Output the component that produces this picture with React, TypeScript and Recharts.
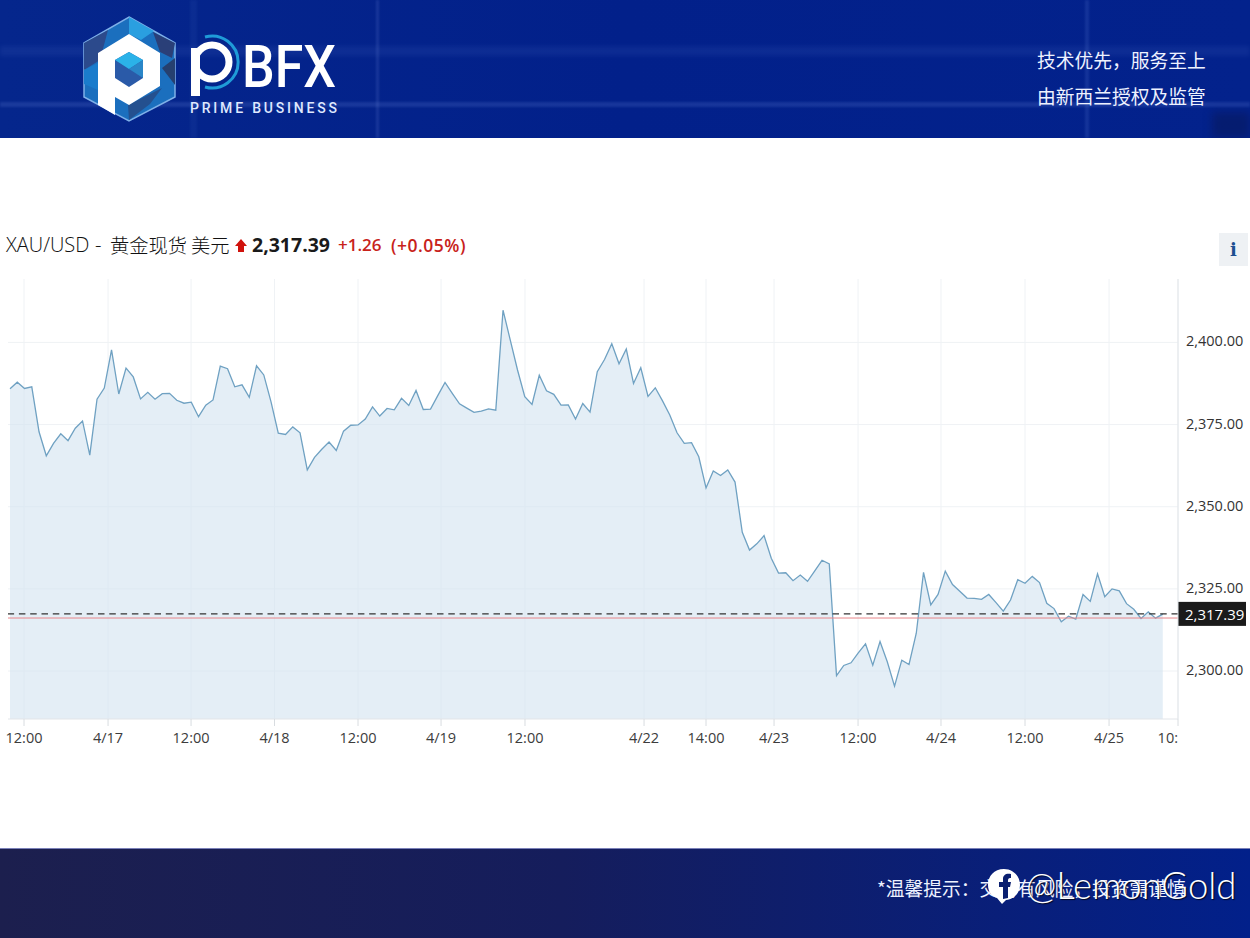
import React from 'react';
import { ComposedChart, Area, XAxis, YAxis, CartesianGrid, ReferenceLine } from 'recharts';

// hourly-ish gold quotes
const prices = [
  2385.9, 2387.9, 2386.0, 2386.5, 2372.8, 2365.5, 2369.3, 2372.2, 2370.1, 2373.9,
  2376.1, 2365.7, 2382.7, 2386.1, 2397.7, 2384.3, 2392.2, 2389.5, 2382.8, 2384.8,
  2382.7, 2384.4, 2384.5, 2382.4, 2381.5, 2381.8, 2377.4, 2380.9, 2382.5, 2392.8,
  2392.0, 2386.5, 2387.1, 2383.3, 2392.9, 2390.1, 2381.9, 2372.4, 2372.0, 2374.3,
  2372.5, 2361.2, 2365.0, 2367.5, 2369.7, 2367.1, 2373.0, 2374.8, 2374.9, 2376.7,
  2380.4, 2377.6, 2379.9, 2379.5, 2383.0, 2380.8, 2385.4, 2379.6, 2379.7, 2383.8,
  2387.8, 2384.5, 2381.3, 2380.0, 2378.7, 2379.1, 2379.8, 2379.4, 2409.8, 2400.7,
  2391.6, 2383.5, 2381.1, 2390.0, 2385.3, 2384.2, 2380.9, 2381.0, 2376.7, 2381.4,
  2378.8, 2391.1, 2394.8, 2399.6, 2393.5, 2398.0, 2387.5, 2392.3, 2383.6, 2386.2,
  2382.2, 2377.9, 2372.5, 2369.3, 2369.5, 2365.2, 2355.7, 2360.9, 2359.5, 2361.2,
  2357.5, 2342.2, 2336.8, 2338.7, 2341.2, 2334.3, 2329.8, 2329.9, 2327.5, 2329.2,
  2327.3, 2330.5, 2333.7, 2332.6, 2298.6, 2301.7, 2302.5, 2305.5, 2308.3, 2301.8,
  2309.0, 2302.8, 2295.4, 2303.3, 2302.0, 2311.5, 2330.0, 2320.1, 2323.3, 2330.4,
  2326.3, 2324.3, 2322.2, 2322.1, 2321.8, 2323.3, 2320.8, 2318.2, 2321.6, 2327.8,
  2326.7, 2328.8, 2326.9, 2320.6, 2319.0, 2315.0, 2316.7, 2315.8, 2323.3, 2321.2,
  2329.6, 2322.6, 2325.0, 2324.4, 2320.5, 2318.8, 2316.0, 2318.0, 2316.1, 2317.3,
];

// x ticks sit between samples, so they are given as fractional sample numbers
const tickSpots = [1.93, 13.52, 24.97, 36.48, 48, 59.45, 71.03, 87.45, 96, 105.38, 116.97, 128.41, 140, 151.59, 161.1];
const tickLabels = ['12:00', '4/17', '12:00', '4/18', '12:00', '4/19', '12:00', '4/22', '14:00', '4/23', '12:00', '4/24', '12:00', '4/25', '10:'];
const priceTicks = [2300, 2325, 2350, 2375, 2400];

const LAST_PRICE = 2317.39;
const PREV_CLOSE = 2316.13;

const chartData = prices.map((price, idx) => ({ idx, price }));

const LATIN = '"Open Sans", "Noto Sans CJK SC", sans-serif';
const CJK = '"Noto Sans CJK SC", "Noto Sans", sans-serif';

const fmtPrice = (v: number) => v.toLocaleString('en-US', { minimumFractionDigits: 2, maximumFractionDigits: 2 });

const TimeTick = (props: any) => {
  const { x, y, payload, index } = props;
  const last = index === tickSpots.length - 1;
  return (
    <text x={x} y={y + 15} textAnchor={last ? 'end' : 'middle'} fontSize={14.5} fill="#3c3c3c" fontFamily={LATIN}>
      {tickLabels[tickSpots.indexOf(payload.value)]}
    </text>
  );
};

const PriceTick = (props: any) => {
  const { x, y, payload } = props;
  return (
    <text x={x - 6} y={y + 4} fontSize={14.5} fill="#333" fontFamily={LATIN}>
      {fmtPrice(payload.value)}
    </text>
  );
};

const LastPriceTag = (props: any) => {
  const { viewBox } = props;
  const y = viewBox.y;
  const x = viewBox.x + viewBox.width;
  return (
    <g>
      <rect x={x} y={y - 12} width={68} height={24} fill="#1a1a1a" />
      <text x={x + 7} y={y + 6} fontSize={15} fill="#fff" fontFamily={LATIN}>
        {fmtPrice(LAST_PRICE)}
      </text>
    </g>
  );
};

const Logo = () => (
  <svg width={350} height={138} style={{ position: 'absolute', left: 0, top: 0 }}>
    <polygon points="129,17 175,43 175,97 129,121 84,97 84,43" fill="#1b6fbe" stroke="#7fb0e8" strokeWidth={1.5} />
    <polygon points="129,17 154,31 141,40 129,34" fill="#2a9fe0" />
    <polygon points="84,43 108,30 100,60 84,70" fill="#2c4a8c" />
    <polygon points="153,32 175,43 172,58 160,52" fill="#2a3f78" />
    <polygon points="175,58 175,85 162,68" fill="#26406f" />
    <polygon points="84,70 100,62 98,90 84,84" fill="#1a7ccc" />
    <polygon points="128,105 162,88 150,104 129,120" fill="#24508f" />
    <polygon points="129,34 160,53 160,86 129,105 115,97 115,115 98,105 98,53" fill="#fff" />
    <polygon points="129,52 143,60 143,78 129,87 115,78 115,60" fill="#2a5aa8" />
    <polygon points="129,52 143,60 129,69 115,60" fill="#2bb2e8" />
    <polygon points="129,69 143,60 143,78" fill="#2a86c8" />
    {/* p glyph with blue ring */}
    <rect x={191} y={48} width={9} height={48} fill="#fff" />
    <circle cx={212} cy={62} r={17} fill="none" stroke="#fff" strokeWidth={7} />
    <path d="M 205 37 A 26 26 0 1 1 205 87" fill="none" stroke="#1f9bd8" strokeWidth={3} />
    <text x={242} y={87} fontSize={60} fontWeight={500} fill="#fff" fontFamily="Roboto, sans-serif" textLength={94} lengthAdjust="spacingAndGlyphs">
      BFX
    </text>
    <text x={190} y={113} fontSize={14} fontWeight={500} fill="#dfe8ff" fontFamily="Roboto, sans-serif" textLength={147}>
      PRIME BUSINESS
    </text>
  </svg>
);

const Header = () => (
  <div style={{ position: 'absolute', left: 0, top: 0, width: 1250, height: 138, overflow: 'hidden', background: 'linear-gradient(90deg, #05268c 0%, #02208a 50%, #03228c 100%)' }}>
    <div style={{ position: 'absolute', left: 0, top: 46, width: 1250, height: 10, background: 'rgba(120,150,230,0.09)', filter: 'blur(2px)' }} />
    <div style={{ position: 'absolute', left: 0, top: 102, width: 1250, height: 5, background: 'rgba(120,150,230,0.18)', filter: 'blur(1px)' }} />
    <div style={{ position: 'absolute', left: 190, top: 0, width: 7, height: 138, background: 'rgba(120,150,230,0.07)', filter: 'blur(1px)' }} />
    <div style={{ position: 'absolute', left: 376, top: 0, width: 3, height: 138, background: 'rgba(120,150,230,0.18)', filter: 'blur(1px)' }} />
    <div style={{ position: 'absolute', left: 1085, top: 0, width: 4, height: 138, background: 'rgba(120,150,230,0.16)', filter: 'blur(1px)' }} />
    <div style={{ position: 'absolute', left: 1212, top: 112, width: 38, height: 26, background: 'rgba(10,20,70,0.4)', filter: 'blur(4px)' }} />
    <Logo />
    <div style={{ position: 'absolute', left: 1037, top: 48, fontSize: 18.75, lineHeight: '24px', color: '#eef2ff', fontFamily: CJK, whiteSpace: 'nowrap' }}>技术优先，服务至上</div>
    <div style={{ position: 'absolute', left: 1037, top: 84, fontSize: 18.75, lineHeight: '24px', color: '#eef2ff', fontFamily: CJK, whiteSpace: 'nowrap' }}>由新西兰授权及监管</div>
  </div>
);

const TitleRow = () => {
  const base: React.CSSProperties = { position: 'absolute', top: 231, lineHeight: '28px', whiteSpace: 'nowrap' };
  return (
    <>
      <span style={{ ...base, left: 6, fontSize: 20, color: '#111', fontFamily: LATIN, fontWeight: 300 }}>XAU/USD</span>
      <span style={{ ...base, left: 95, fontSize: 20, color: '#111', fontFamily: LATIN, fontWeight: 300 }}>-</span>
      <span style={{ ...base, left: 110, fontSize: 19.3, color: '#111', fontFamily: CJK, fontWeight: 300 }}>黄金现货</span>
      <span style={{ ...base, left: 191, fontSize: 19.3, color: '#111', fontFamily: CJK, fontWeight: 300 }}>美元</span>
      <svg width={12} height={14} style={{ position: 'absolute', left: 235, top: 239 }}>
        <polygon points="6,0 12,7 9,7 9,13 3,13 3,7 0,7" fill="#d0120c" />
      </svg>
      <span style={{ ...base, left: 252, fontSize: 19.5, fontWeight: 700, color: '#1a1a1a', fontFamily: LATIN }}>2,317.39</span>
      <span style={{ ...base, left: 338, fontSize: 17, fontWeight: 600, color: '#c8221a', fontFamily: LATIN }}>+1.26</span>
      <span style={{ ...base, left: 391, fontSize: 17.5, fontWeight: 600, letterSpacing: 0.5, color: '#c8221a', fontFamily: LATIN }}>(+0.05%)</span>
      <div style={{ position: 'absolute', left: 1219, top: 233, width: 29, height: 33, background: '#eef1f4', color: '#1d4f91', fontFamily: '"DejaVu Serif", serif', fontWeight: 700, fontSize: 18, lineHeight: '33px', textAlign: 'center' }}>i</div>
    </>
  );
};

const Footer = () => (
  <div style={{ position: 'absolute', left: 0, top: 848, width: 1250, height: 90, overflow: 'hidden', background: 'linear-gradient(90deg, #1c1f4e 0%, #151d5c 45%, #02208a 100%)', borderTop: '1px solid #7a80b8', boxSizing: 'border-box' }}>
    <div style={{ position: 'absolute', left: 877, top: 27, fontSize: 18.75, lineHeight: '24px', color: '#eef2ff', fontFamily: CJK, whiteSpace: 'nowrap' }}>*温馨提示：交易有风险，投资需谨慎</div>
    <svg width={36} height={40} style={{ position: 'absolute', left: 986, top: 18 }}>
      <path d="M 18 2 C 8 2 2 9 2 18 C 2 25 6 29 11 31 L 16 37 L 20 33 C 28 32 34 26 34 18 C 34 9 27 2 18 2 Z" fill="#fff" />
      <path d="M 17 32 L 17 20 L 13 20 L 13 15 L 17 15 L 17 12 C 17 8 20 6 25 7 L 25 11 C 22 11 22 12 22 15 L 25 15 L 24 20 L 22 20 L 22 31 Z" fill="#0a1f70" />
    </svg>
    <div style={{ position: 'absolute', left: 1026, top: 11, fontSize: 36.5, lineHeight: '50px', fontWeight: 300, color: '#fff', fontFamily: 'Lato, Roboto, sans-serif', whiteSpace: 'nowrap', textShadow: '1px 1px 1px rgba(0,0,0,0.75)' }}>@LemonGold</div>
  </div>
);

export default function App() {
  return (
    <div style={{ position: 'absolute', left: 0, top: 0, width: 1250, height: 938, background: '#fff', overflow: 'hidden' }}>
      <Header />
      <TitleRow />
      <div style={{ position: 'absolute', left: 0, top: 270 }}>
        <ComposedChart width={1250} height={490} data={chartData} margin={{ top: 9, right: 0, bottom: 0, left: 8 }}>
          <CartesianGrid stroke="#eff2f5" syncWithTicks />
          <XAxis
            dataKey="idx"
            type="number"
            domain={[-0.28, 161.1]}
            ticks={tickSpots}
            interval={0}
            height={41}
            tick={<TimeTick />}
            tickSize={7}
            axisLine={{ stroke: '#e2e5e9' }}
            tickLine={{ stroke: '#d8dce0' }}
          />
          <YAxis
            orientation="right"
            width={72}
            type="number"
            domain={[2285.4, 2419.3]}
            ticks={priceTicks}
            tickLine={false}
            tickMargin={8}
            axisLine={{ stroke: '#e2e5e9' }}
            tick={<PriceTick />}
          />
          <Area
            type="linear"
            dataKey="price"
            stroke="#6fa1c2"
            strokeWidth={1.3}
            fill="#d3e4f0"
            fillOpacity={0.62}
            isAnimationActive={false}
            dot={false}
            activeDot={false}
          />
          <ReferenceLine y={PREV_CLOSE} stroke="#e8868a" strokeWidth={1} />
          <ReferenceLine y={LAST_PRICE} stroke="#333" strokeDasharray="6.5 4.8" strokeWidth={1.3} label={<LastPriceTag />} />
        </ComposedChart>
      </div>
      <Footer />
    </div>
  );
}
